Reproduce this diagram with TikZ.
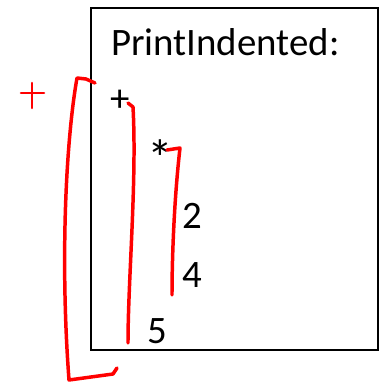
\documentclass[tikz,border=0pt]{standalone}
\usepackage{fontspec}
\setmainfont{Carlito}
\usepackage{tikz}

\begin{document}
\begin{tikzpicture}[
      x=1bp, y=-1bp,
      inner sep=0pt,
      every node/.style={anchor=base west,font=\fontsize{39}{41}\selectfont},
      pen/.style={red,line width=3.5pt,line cap=round,line join=round}
    ]
    \useasboundingbox (0,0) rectangle (381,382);
    \draw[line width=1.6bp] (91,8) rectangle (378,350);
    \node (title) at (111,55) {PrintIndented:};
    \node (plus) at (110,111) {+};
    \node (times) at (147,176) [font=\fontsize{52}{54}\selectfont] {*};
    \node (two) at (182,228) {2};
    \node (four) at (182,287) {4};
    \node (five) at (147,343) {5};
    % red marks
    \draw[pen,line width=2.6bp] (21,93) -- (44,93) (32,83) -- (32,108);
    \draw[pen] (95,83) -- (86,79) -- (77,78) .. controls (66,140) and (60,260) .. (69,380)
      -- (113,374) -- (117,368);
    \draw[pen] (128,103) -- (133,107) .. controls (137,180) and (128,280) .. (128,343);
    \draw[pen] (167,150) -- (180,148) .. controls (174,200) and (172,260) .. (172,295);
\end{tikzpicture}
\end{document}
